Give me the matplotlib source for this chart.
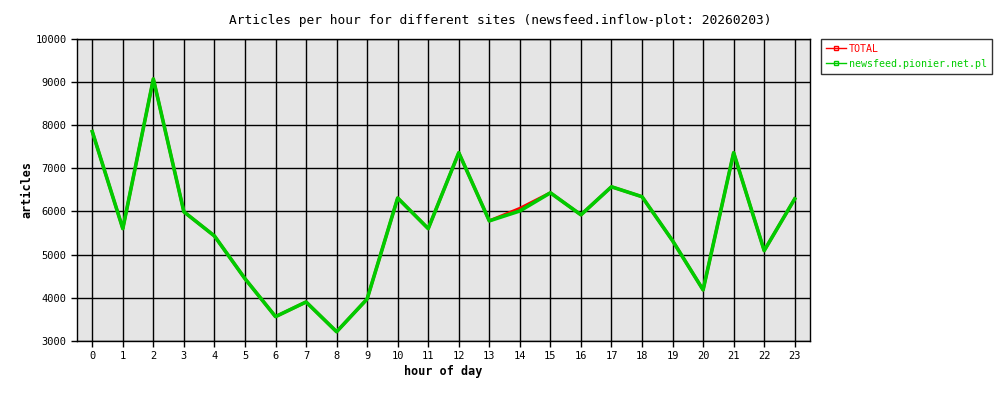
import matplotlib
matplotlib.use("Agg")
import matplotlib.pyplot as plt
from matplotlib.lines import Line2D

hours = list(range(24))
total = [7850, 5600, 9070, 5990, 5430, 4440, 3560, 3900, 3210, 3970, 6310, 5600,
         7360, 5780, 6070, 6430, 5920, 6570, 6340, 5320, 4180, 7360, 5090, 6290]
newsfeed = [7850, 5600, 9070, 5990, 5430, 4440, 3560, 3900, 3210, 3970, 6310, 5600,
            7360, 5780, 6010, 6430, 5920, 6570, 6340, 5320, 4180, 7360, 5090, 6290]
names = ["TOTAL", "newsfeed.pionier.net.pl"]
colors = ["#ff0000", "#00cc00"]

plt.rcParams["font.family"] = "DejaVu Sans Mono"

fig = plt.figure(figsize=(10, 4), dpi=100)
ax = fig.add_axes([0.077, 0.148, 0.733, 0.755])
ax.set_facecolor("#e5e5e5")

ax.plot(hours, total, color=colors[0], linewidth=2.2)
ax.plot(hours, newsfeed, color=colors[1], linewidth=2.6)

ax.set_xlim(-0.5, 23.5)
ax.set_ylim(3000, 10000)
ax.set_xticks(hours)
ax.set_yticks(range(3000, 10001, 1000))
ax.grid(True, color="black", linewidth=1)
ax.set_axisbelow(True)
ax.tick_params(labelsize=7.5, length=4, width=1)
for s in ax.spines.values():
    s.set_linewidth(1)

ax.set_xlabel("hour of day", fontsize=8.5, fontweight="bold", labelpad=3)
ax.set_ylabel("articles", fontsize=8.5, fontweight="bold", labelpad=1)
fig.suptitle("Articles per hour for different sites (newsfeed.inflow-plot: 20260203)",
             fontsize=9.3, y=0.965)

handles = [Line2D([], [], color=c, linewidth=1, marker="s", markersize=3,
                  markerfacecolor="none") for c in colors]
leg = ax.legend(handles, names, loc="upper left", bbox_to_anchor=(1.015, 1.0),
                fontsize=7.2, frameon=True, fancybox=False, edgecolor="black",
                borderaxespad=0, handlelength=2.0, handletextpad=0.3,
                labelspacing=0.5, borderpad=0.5)
leg.get_frame().set_linewidth(1)
for txt, c in zip(leg.get_texts(), colors):
    txt.set_color(c)

fig.savefig("out.png")
